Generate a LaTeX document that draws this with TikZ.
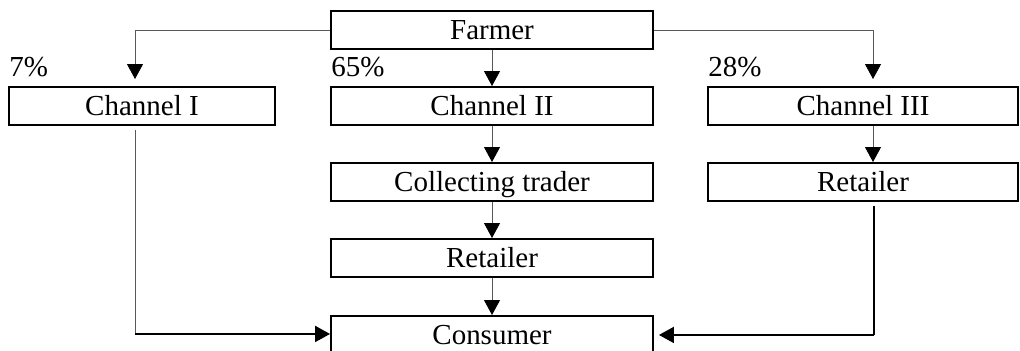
\documentclass[tikz,border=0pt]{standalone}
\usepackage{fontspec}
\setmainfont{Liberation Serif}
\usetikzlibrary{arrows.meta,positioning,calc}

\begin{document}
\begin{tikzpicture}[x=0.02cm,y=-0.02cm,
  box/.style={draw,line width=1.1pt,inner sep=0pt,minimum height=0.76cm,text height=0.57cm,text depth=0.19cm,font=\fontsize{16.5}{18}\selectfont},
  flow/.style={draw=black!65,line width=0.5pt,-{Triangle[width=0.32cm,length=0.3cm,color=black]}},
  feed/.style={line width=1.1pt,-{Triangle[width=0.32cm,length=0.3cm]}},
  pct/.style={anchor=base west,inner sep=0pt,font=\fontsize{16.5}{18}\selectfont}]
\useasboundingbox (0,0) rectangle (1020,351);
% boxes
\node[box,minimum width=6.44cm] (farmer) at (492,30) {Farmer};
\node[box,minimum width=5.32cm] (ch1) at (142,106) {Channel I};
\node[box,minimum width=6.44cm] (ch2) at (492,106) {Channel II};
\node[box,minimum width=6.2cm] (ch3) at (863,106) {Channel III};
\node[box,minimum width=6.44cm] (trader) at (492,182) {Collecting trader};
\node[box,minimum width=6.44cm] (ret2) at (492,258) {Retailer};
\node[box,minimum width=6.2cm] (ret3) at (863,182) {Retailer};
\node[box,minimum width=6.44cm] (cons) at (492,335) {Consumer};
% shares
\node[pct] (p1) at (9,77) {7\%};\node[pct] (p2) at (331,77) {65\%};\node[pct] (p3) at (708,77) {28\%};
% arrows
\draw[flow,shorten >=0.14cm] (farmer.west) -| ($(ch1.north)+(-7,0)$);
\draw[flow,shorten >=0.14cm] (farmer.east) -| ($(ch3.north)+(10,0)$);
\draw[flow] (farmer) -- (ch2);\draw[flow] (ch2) -- (trader);\draw[flow] (trader) -- (ret2);\draw[flow] (ret2) -- (cons);
\draw[flow] ($(ch3.south)+(10,0)$) -- ($(ret3.north)+(10,0)$);
\draw[draw=black!65,line width=0.5pt,shorten <=0.08cm] ($(ch1.south)+(-7,0)$) -- ($(ch1.south)+(-7,208)$) coordinate (k1);
\draw[feed] (k1) -- (k1 -| cons.west);
\draw[line width=0.6pt,shorten <=0.08cm] ($(ret3.south)+(11,0)$) -- ($(ret3.south)+(11,133)$) coordinate (k3);
\draw[feed,shorten >=0.1cm] (k3) -- (k3 -| cons.east);
\end{tikzpicture}
\end{document}
